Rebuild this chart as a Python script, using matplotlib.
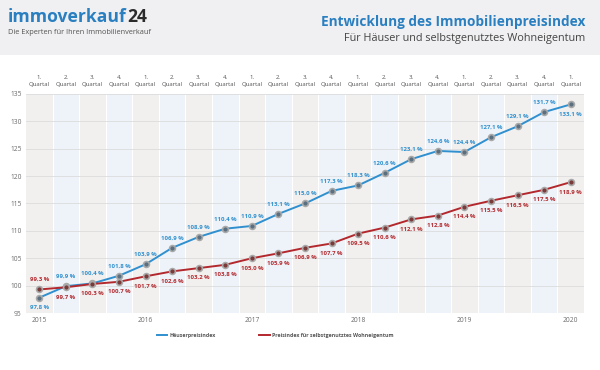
import matplotlib
matplotlib.use("Agg")
import matplotlib.pyplot as plt
from matplotlib.patches import Rectangle

# quarterly index values, 2015 Q1 .. 2020 Q1
quarters = ["1.", "2.", "3.", "4."] * 5 + ["1."]
years = ["2015", "2016", "2017", "2018", "2019", "2020"]
haeuser = [97.8, 99.9, 100.4, 101.8, 103.9, 106.9, 108.9, 110.4, 110.9, 113.1,
           115.0, 117.3, 118.3, 120.6, 123.1, 124.6, 124.4, 127.1, 129.1, 131.7, 133.1]
wohneigentum = [99.3, 99.7, 100.3, 100.7, 101.7, 102.6, 103.2, 103.8, 105.0, 105.9,
                106.9, 107.7, 109.5, 110.6, 112.1, 112.8, 114.4, 115.5, 116.5, 117.5, 118.9]
y_ticks = [95, 100, 105, 110, 115, 120, 125, 130, 135]

BLUE = "#2f8fcf"
RED = "#b3282d"
GREY_TXT = "#6b6b6b"

plt.rcParams["font.family"] = ["Open Sans", "DejaVu Sans"]

fig = plt.figure(figsize=(6.0, 3.7), dpi=100)
fig.patch.set_facecolor("white")

# header band
fig.patches.append(Rectangle((0, 1 - 55 / 370), 1, 55 / 370, transform=fig.transFigure,
                             facecolor="#f0f0f2", edgecolor="none", zorder=0))
logo = fig.text(0.013, 0.953, "immoverkauf", color="#2a7fc1", fontsize=12.6,
                fontweight="bold", va="center", ha="left")
fig.canvas.draw()
bb = logo.get_window_extent().transformed(fig.transFigure.inverted())
fig.text(bb.x1 + 0.002, 0.953, "24", color="#2b2b2b", fontsize=12.6,
         fontweight="bold", va="center", ha="left")
fig.text(0.013, 0.913, "Die Experten für Ihren Immobilienverkauf", color="#555555",
         fontsize=5.3, va="center", ha="left")
fig.text(0.975, 0.94, "Entwicklung des Immobilienpreisindex", color="#2a7fc1",
         fontsize=9.8, fontweight="bold", va="center", ha="right")
fig.text(0.975, 0.897, "Für Häuser und selbstgenutztes Wohneigentum", color="#444444",
         fontsize=7.8, va="center", ha="right")

ax = fig.add_axes([26 / 600, 1 - 313 / 370, 558 / 600, 219 / 370])
n = len(haeuser)
xs = list(range(n))
ax.set_xlim(-0.5, n - 0.5)
ax.set_ylim(95, 135)

# alternating quarter columns
for i in xs:
    col = "#f1f0ef" if i % 2 == 0 else "#edf3f9"
    ax.axvspan(i - 0.5, i + 0.5, facecolor=col, edgecolor="none", zorder=0)
    ax.axvline(i + 0.5, color="white", lw=0.8, zorder=0.5)
for t in y_ticks:
    ax.axhline(t, color="#dcdcdc", lw=0.6, zorder=1)

mk = dict(marker="o", markersize=4.2, markeredgecolor="#a9a9a9", markeredgewidth=1.2)
ax.plot(xs, haeuser, color=BLUE, lw=1.4, markerfacecolor="#5a6f80", zorder=3, **mk)
ax.plot(xs, wohneigentum, color=RED, lw=1.4, markerfacecolor="#7a3a3a", zorder=3, **mk)


def fmt(v):
    return f"{v:.1f} %".replace(".", ",")


for i, v in enumerate(haeuser):
    dy = -7 if i in (0, n - 1) else 7
    ax.annotate(fmt(v), (i, v), xytext=(0, dy), textcoords="offset points",
                ha="center", va="center", fontsize=4.3, color=BLUE, fontweight="bold")
for i, v in enumerate(wohneigentum):
    dy = 7 if i == 0 else -7
    ax.annotate(fmt(v), (i, v), xytext=(0, dy), textcoords="offset points",
                ha="center", va="center", fontsize=4.3, color=RED, fontweight="bold")

# quarter labels above plot
for i, q in enumerate(quarters):
    ax.text(i, 1.06, q + "\nQuartal", transform=ax.get_xaxis_transform(),
            ha="center", va="center", fontsize=4.3, color="#555555", linespacing=1.5)

ax.set_xticks([0, 4, 8, 12, 16, 20])
ax.set_xticklabels(years)
ax.set_yticks(y_ticks)
ax.tick_params(axis="both", length=0, labelsize=4.8, colors=GREY_TXT, pad=3)
for s in ax.spines.values():
    s.set_visible(False)

# legend
ly = 1 - 335 / 370
fig.lines.append(plt.Line2D([157 / 600, 167 / 600], [ly] * 2,
                            transform=fig.transFigure, color=BLUE, lw=1.4))
fig.text(169 / 600, ly, "Häuserpreisindex", fontsize=3.8, color="#555555",
         va="center", fontweight="bold")
fig.lines.append(plt.Line2D([259 / 600, 270 / 600], [ly] * 2,
                            transform=fig.transFigure, color=RED, lw=1.4))
fig.text(272 / 600, ly, "Preisindex für selbstgenutztes Wohneigentum",
         fontsize=3.8, color="#555555", va="center", fontweight="bold")

fig.savefig("out.png", dpi=100)
